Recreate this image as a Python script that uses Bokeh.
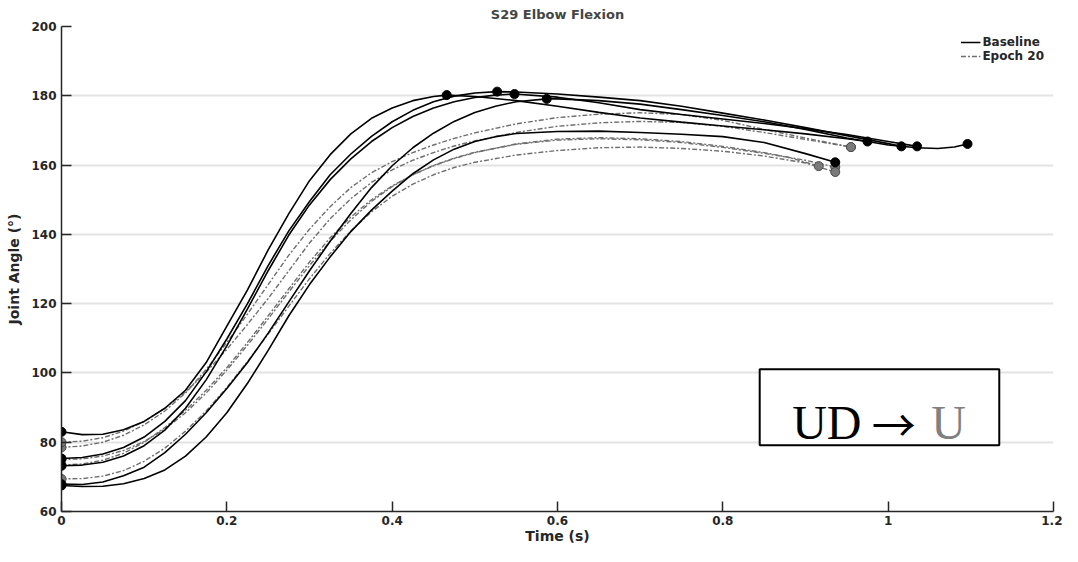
from bokeh.plotting import figure
from bokeh.models import Legend, LegendItem, Label, BoxAnnotation, Range1d, FixedTicker
from bokeh.embed import file_html
from bokeh.resources import INLINE

# ---------------- data ----------------
# Baseline trials (black, solid)
b1_t = [0.0, 0.025, 0.05, 0.075, 0.1, 0.125, 0.15, 0.175, 0.2, 0.225, 0.25, 0.275, 0.3, 0.325, 0.35,
        0.375, 0.4, 0.425, 0.45, 0.466, 0.5, 0.55, 0.6, 0.65, 0.7, 0.75, 0.8, 0.85, 0.9, 0.95, 0.975]
b1_y = [83.0, 82.2, 82.3, 83.6, 86.0, 89.8, 95.0, 103.0, 113.5, 124.0, 135.5, 146.0, 155.5, 163.0, 169.0,
        173.5, 176.5, 178.6, 179.8, 180.2, 179.8, 178.6, 177.0, 175.2, 173.6, 172.4, 171.3, 170.2, 169.0, 167.6, 166.8]

b2_t = [0.0, 0.025, 0.05, 0.075, 0.1, 0.125, 0.15, 0.175, 0.2, 0.225, 0.25, 0.275, 0.3, 0.325, 0.35,
        0.375, 0.4, 0.425, 0.45, 0.475, 0.5, 0.527, 0.55, 0.6, 0.65, 0.7, 0.75, 0.8, 0.85, 0.9, 0.95, 1.0, 1.016]
b2_y = [75.3, 75.6, 76.6, 78.5, 81.5, 86.0, 92.0, 100.3, 109.8, 120.0, 131.0, 141.0, 149.5, 157.2, 163.2,
        168.3, 172.5, 175.8, 178.3, 179.9, 180.8, 181.2, 181.1, 180.5, 179.6, 178.6, 177.0, 175.0, 173.0, 170.8, 168.5, 166.2, 165.4]

b3_t = [0.0, 0.025, 0.05, 0.075, 0.1, 0.125, 0.15, 0.175, 0.2, 0.225, 0.25, 0.275, 0.3, 0.325, 0.35,
        0.375, 0.4, 0.425, 0.45, 0.475, 0.5, 0.525, 0.548, 0.6, 0.65, 0.7, 0.75, 0.8, 0.85, 0.9, 0.95, 1.0, 1.035]
b3_y = [73.2, 73.4, 74.2, 76.0, 79.0, 83.5, 89.8, 98.0, 107.8, 118.5, 129.5, 139.8, 148.5, 155.8, 161.8,
        166.8, 170.8, 174.0, 176.5, 178.3, 179.5, 180.2, 180.5, 179.6, 178.0, 176.0, 174.6, 173.3, 172.0, 170.5, 168.8, 166.8, 165.4]

b4_t = [0.0, 0.025, 0.05, 0.075, 0.1, 0.125, 0.15, 0.175, 0.2, 0.225, 0.25, 0.275, 0.3, 0.325, 0.35,
        0.375, 0.4, 0.425, 0.45, 0.475, 0.5, 0.525, 0.55, 0.587, 0.6, 0.65, 0.7, 0.75, 0.8, 0.85, 0.9, 0.95,
        1.0, 1.035, 1.06, 1.08, 1.096]
b4_y = [67.9, 67.8, 68.5, 70.3, 72.8, 77.0, 82.3, 88.5, 95.5, 103.0, 111.5, 120.5, 129.5, 138.0, 146.0,
        153.5, 159.8, 165.0, 169.2, 172.6, 175.2, 177.0, 178.3, 179.1, 179.1, 178.6, 177.6, 176.0, 174.3, 172.5, 170.3, 167.8,
        165.8, 165.0, 164.8, 165.2, 166.1]

b5_t = [0.0, 0.025, 0.05, 0.075, 0.1, 0.125, 0.15, 0.175, 0.2, 0.225, 0.25, 0.275, 0.3, 0.325, 0.35,
        0.375, 0.4, 0.425, 0.45, 0.475, 0.5, 0.525, 0.55, 0.6, 0.65, 0.7, 0.75, 0.8, 0.85, 0.9, 0.936]
b5_y = [67.5, 67.2, 67.3, 68.0, 69.5, 72.0, 76.0, 81.5, 88.5, 97.0, 106.5, 116.5, 125.5, 133.5, 140.8,
        147.0, 152.5, 157.5, 161.5, 164.6, 166.8, 168.2, 169.1, 169.7, 169.8, 169.4, 168.9, 168.2, 166.5, 163.3, 160.8]

# Baseline peak events (black dots part-way along four trials)
peak_t = [0.466, 0.527, 0.548, 0.587]
peak_y = [180.2, 181.2, 180.5, 179.1]

# Epoch 20 trials (grey, dash-dot)
e1_t = [0.0, 0.025, 0.05, 0.075, 0.1, 0.125, 0.15, 0.175, 0.2, 0.225, 0.25, 0.275, 0.3, 0.325, 0.35,
        0.375, 0.4, 0.425, 0.45, 0.475, 0.5, 0.55, 0.6, 0.65, 0.7, 0.75, 0.8, 0.85, 0.9, 0.955]
e1_y = [78.5, 78.9, 80.0, 82.0, 85.0, 89.0, 94.2, 101.0, 108.8, 117.0, 125.5, 134.0, 141.5, 148.0, 153.5,
        157.8, 161.0, 163.6, 165.8, 167.7, 169.3, 171.9, 173.7, 174.7, 175.1, 174.6, 172.9, 170.3, 167.8, 165.2]

e2_t = [0.0, 0.025, 0.05, 0.075, 0.1, 0.125, 0.15, 0.175, 0.2, 0.225, 0.25, 0.275, 0.3, 0.325, 0.35,
        0.375, 0.4, 0.425, 0.45, 0.475, 0.5, 0.55, 0.6, 0.65, 0.7, 0.75, 0.8, 0.85, 0.9, 0.955]
e2_y = [80.0, 80.3, 81.3, 83.2, 86.0, 89.8, 94.5, 100.2, 106.8, 114.0, 121.5, 129.5, 137.5, 144.5, 150.3,
        155.0, 158.6, 161.4, 163.6, 165.5, 167.0, 169.4, 171.2, 172.2, 172.6, 172.3, 171.2, 169.4, 167.4, 165.2]

e3_t = [0.0, 0.025, 0.05, 0.075, 0.1, 0.125, 0.15, 0.175, 0.2, 0.225, 0.25, 0.275, 0.3, 0.325, 0.35,
        0.375, 0.4, 0.425, 0.45, 0.475, 0.5, 0.55, 0.6, 0.65, 0.7, 0.75, 0.8, 0.85, 0.88, 0.916]
e3_y = [73.4, 73.7, 74.8, 76.8, 80.0, 84.2, 89.2, 95.0, 101.5, 108.8, 116.5, 124.3, 132.0, 139.0, 145.0,
        150.0, 154.0, 157.2, 159.8, 161.9, 163.6, 166.1, 167.5, 167.9, 167.6, 166.8, 165.4, 163.6, 162.2, 159.7]

e4_t = [0.0, 0.025, 0.05, 0.075, 0.1, 0.125, 0.15, 0.175, 0.2, 0.225, 0.25, 0.275, 0.3, 0.325, 0.35,
        0.375, 0.4, 0.425, 0.45, 0.475, 0.5, 0.55, 0.6, 0.65, 0.7, 0.75, 0.8, 0.85, 0.9, 0.936]
e4_y = [75.0, 75.2, 76.0, 77.6, 80.2, 83.8, 88.5, 94.2, 100.8, 108.0, 115.6, 123.4, 131.0, 138.0, 144.2,
        149.5, 153.8, 157.2, 159.9, 162.0, 163.7, 166.0, 167.2, 167.6, 167.3, 166.5, 165.1, 163.4, 161.4, 159.4]

e5_t = [0.0, 0.025, 0.05, 0.075, 0.1, 0.125, 0.15, 0.175, 0.2, 0.225, 0.25, 0.275, 0.3, 0.325, 0.35,
        0.375, 0.4, 0.425, 0.45, 0.475, 0.5, 0.55, 0.6, 0.65, 0.7, 0.75, 0.8, 0.85, 0.9, 0.936]
e5_y = [69.4, 69.5, 70.2, 71.8, 74.5, 78.3, 83.2, 89.0, 95.8, 103.3, 111.2, 119.3, 127.2, 134.5, 141.0,
        146.5, 151.0, 154.5, 157.2, 159.3, 160.8, 162.9, 164.2, 165.0, 165.2, 164.8, 164.0, 162.6, 160.6, 158.0]

x_ticks = [0, 0.2, 0.4, 0.6, 0.8, 1, 1.2]
x_tick_labels = ["0", "0.2", "0.4", "0.6", "0.8", "1", "1.2"]
y_ticks = [60, 80, 100, 120, 140, 160, 180, 200]

baseline = [(b1_t, b1_y), (b2_t, b2_y), (b3_t, b3_y), (b4_t, b4_y), (b5_t, b5_y)]
epoch20 = [(e1_t, e1_y), (e2_t, e2_y), (e3_t, e3_y), (e4_t, e4_y), (e5_t, e5_y)]

# ---------------- figure ----------------
FONT = "DejaVu Sans"
BLACK = "#000000"
GREY = "#6e6e6e"

p = figure(width=1062, height=546, x_range=Range1d(0, 1.2), y_range=Range1d(60, 200),
           output_backend="svg", toolbar_location=None,
           min_border_left=61, min_border_right=9, min_border_top=26, min_border_bottom=0)
p.outline_line_color = None
p.background_fill_color = "white"

p.title.text = "S29 Elbow Flexion"
p.title.align = "center"
p.title.text_font = FONT
p.title.text_font_style = "bold"
p.title.text_font_size = "13px"
p.title.standoff = 9
p.title.offset = 0

p.xaxis.ticker = FixedTicker(ticks=x_ticks)
p.xaxis.major_label_overrides = {t: l for t, l in zip(x_ticks, x_tick_labels)}
p.yaxis.ticker = FixedTicker(ticks=y_ticks)
p.xaxis.axis_label = "Time (s)"
p.yaxis.axis_label = "Joint Angle (°)"
for ax in (p.xaxis, p.yaxis):
    ax.axis_line_color = "#262626"
    ax.axis_line_width = 1.5
    ax.major_tick_line_color = "#262626"
    ax.major_tick_line_width = 1.5
    ax.major_tick_in = 10
    ax.major_tick_out = 0
    ax.minor_tick_line_color = None
    ax.major_label_text_font = FONT
    ax.major_label_text_font_style = "bold"
    ax.major_label_text_font_size = "12px"
    ax.major_label_text_color = "#262626"
    ax.axis_label_text_font = FONT
    ax.axis_label_text_font_style = "bold"
    ax.axis_label_text_font_size = "14px"
    ax.axis_label_text_color = "#262626"
p.xaxis.major_label_standoff = 4
p.yaxis.major_label_standoff = 5
p.xaxis.axis_label_standoff = 0
p.yaxis.axis_label_standoff = 6

p.xgrid.visible = False
p.ygrid.grid_line_color = "#e3e3e3"
p.ygrid.grid_line_width = 2

# Epoch 20 curves first (drawn underneath)
grey_lines = []
for t, y in epoch20:
    r = p.line(t, y, line_color=GREY, line_width=1.4, line_dash="5 2 2 2")
    grey_lines.append(r)
for t, y in epoch20:
    p.scatter([t[0], t[-1]], [y[0], y[-1]], size=9, fill_color="#7a7a7a", line_color="#4a4a4a", line_width=1)

black_lines = []
for t, y in baseline:
    r = p.line(t, y, line_color=BLACK, line_width=1.6)
    black_lines.append(r)
for t, y in baseline:
    p.scatter([t[0], t[-1]], [y[0], y[-1]], size=9, fill_color=BLACK, line_color=BLACK)
p.scatter(peak_t, peak_y, size=9, fill_color=BLACK, line_color=BLACK)

legend = Legend(items=[LegendItem(label="Baseline", renderers=[black_lines[0]]),
                       LegendItem(label="Epoch 20", renderers=[grey_lines[0]])],
                location="top_right")
legend.label_text_font = FONT
legend.label_text_font_style = "bold"
legend.label_text_font_size = "12px"
legend.label_text_color = "#262626"
legend.label_standoff = 2
legend.glyph_width = 20
legend.glyph_height = 10
legend.label_height = 10
legend.spacing = -5
legend.padding = 0
legend.margin = 9
legend.border_line_alpha = 0
legend.background_fill_alpha = 0
p.add_layout(legend)

# annotation box "UD -> U"
box = BoxAnnotation(left=0.8446, right=1.1344, bottom=79.1, top=101.05,
                    fill_color="white", fill_alpha=1.0, line_color="black", line_alpha=1.0, line_width=2)
p.add_layout(box)
p.add_layout(Label(x=0.8839, y=85.66, text="UD", text_font="Liberation Serif",
                   text_font_size="48px", text_color="black", text_baseline="alphabetic"))
p.add_layout(Label(x=0.980, y=85.66, text="→", text_font="Noto Sans CJK JP",
                   text_font_size="44px", text_color="black", text_baseline="alphabetic"))
p.add_layout(Label(x=1.0521, y=85.66, text="U", text_font="Liberation Serif",
                   text_font_size="48px", text_color="#808080", text_baseline="alphabetic"))

open("out.html", "w").write(file_html(p, INLINE))
